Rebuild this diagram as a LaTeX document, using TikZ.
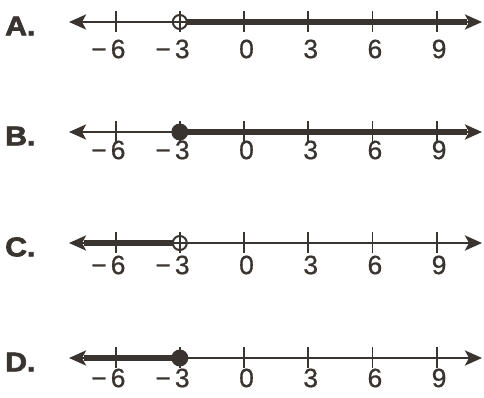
\documentclass[tikz,border=0pt]{standalone}
\usepackage{fontspec}
\setmainfont{Liberation Sans}
\newfontfamily\heavyfont[FakeBold=2.5,FakeStretch=1.12]{Liberation Sans Bold}
\newfontfamily\numfont[FakeBold=0.6]{Liberation Sans}
\usetikzlibrary{arrows.meta}
\definecolor{ink}{HTML}{3A3431}
\begin{document}
\begin{tikzpicture}[x=1pt,y=-1pt,
  axis/.style={ink,line width=2.8pt,{Stealth[length=17pt,width=15pt,inset=4pt]}-{Stealth[length=17pt,width=15pt,inset=4pt]}},
  ray/.style={ink,line width=6pt},
  tickmark/.style={ink,line width=1.8pt},
  num/.style={font=\numfont\fontsize{26.5}{26.5}\selectfont, text=ink, inner sep=0pt},
  letter/.style={font=\heavyfont\fontsize{27}{27}\selectfont, text=ink, anchor=west, inner sep=0pt},
  opendot/.style={circle, draw=ink, line width=2pt, fill=white, minimum size=14pt, inner sep=0pt},
  closeddot/.style={circle, fill=ink, minimum size=17pt, inner sep=0pt}]
\useasboundingbox[fill=white] (0,0) rectangle (484,398);
\foreach \r/\y/\ny in {A/22/49,B/132/150,C/243/265,D/358/378}{
  \coordinate (\r L) at (69,\y);
  \coordinate (\r R) at (482,\y);
  \coordinate (\r Lb) at (84,\y);
  \coordinate (\r Rb) at (467,\y);
  \node[letter] (\r lab) at (5,\y+4) {\r.};
  \draw[axis] (\r L) -- (\r R);
  \foreach \v/\t in {-6/{\llap{−\hspace{4pt}}6},-3/{\llap{−\hspace{4pt}}3},0/0,3/3,6/6,9/9}{
    \coordinate (\r t\v) at ({244+21.4*\v},\y);
    \node[num] (\r n\v) at ({246.5+21.4*\v},\ny) {\t};
  }
}
% rays
\draw[ray] (At-3) -- (ARb);
\draw[ray] (Bt-3) -- (BRb);
\draw[ray] (CLb) -- (Ct-3);
\draw[ray] (DLb) -- (Dt-3);
% ticks
\foreach \r in {A,B,C,D}{
  \foreach \v in {-6,-3,0,3,6,9}{
    \draw[tickmark] ([yshift=-10pt]\r t\v) -- ([yshift=11pt]\r t\v);
  }
}
% dots
\node[closeddot] (Bdot) at (Bt-3) {};
\node[closeddot] (Ddot) at (Dt-3) {};
\node[opendot] (Adot) at (At-3) {};
\node[opendot] (Cdot) at (Ct-3) {};
\draw[tickmark] ([yshift=-10pt]At-3) -- ([yshift=11pt]At-3);
\draw[tickmark] ([yshift=-10pt]Ct-3) -- ([yshift=11pt]Ct-3);
\draw[tickmark] (Adot.west) -- (Adot.east);
\draw[tickmark] (Cdot.west) -- (Cdot.east);
\end{tikzpicture}
\end{document}
